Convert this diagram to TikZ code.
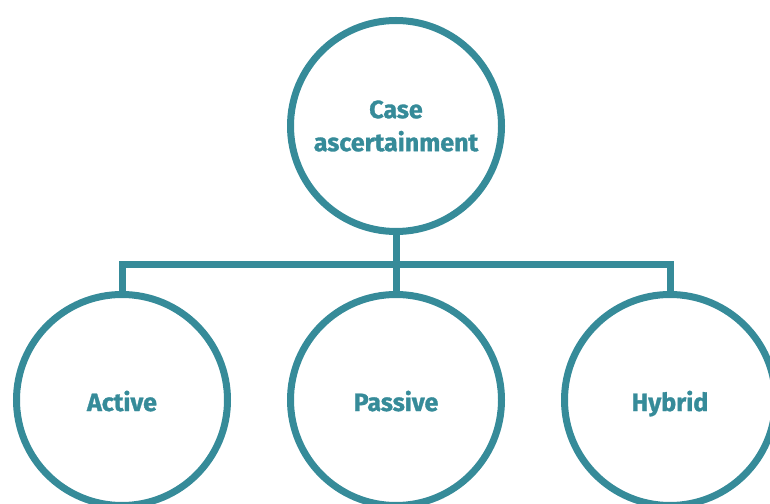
\documentclass[tikz,border=0pt]{standalone}
\usepackage{fontspec}
\setmainfont{Fira Sans}[BoldFeatures={FakeBold=1.2}]
\definecolor{caseteal}{RGB}{54,139,153}
\begin{document}
\begin{tikzpicture}[
    x=1pt, y=1pt,
    circ/.style={draw=caseteal,line width=7pt,circle,minimum size=211pt,
      inner sep=0pt,text=caseteal,align=center,
      font=\fontsize{25}{33}\selectfont\bfseries},
    level distance=274pt,
    level 1/.style={sibling distance=274pt,
      nodes={text height=22pt,text depth=0pt}},
    edge from parent/.style={draw=caseteal,line width=7pt},
    edge from parent path={(\tikzparentnode.south) -- ++(0,-30)
      -| (\tikzchildnode.north)}]
 \useasboundingbox (0,0) rectangle (770,503);
 \node [circ] (case) at (396,377) {Case\\ascertainment}
   child { node[circ] (active) {Active} }
   child { node[circ] (passive) {Passive} }
   child { node[circ] (hybrid) {Hybrid} };
\end{tikzpicture}
\end{document}
